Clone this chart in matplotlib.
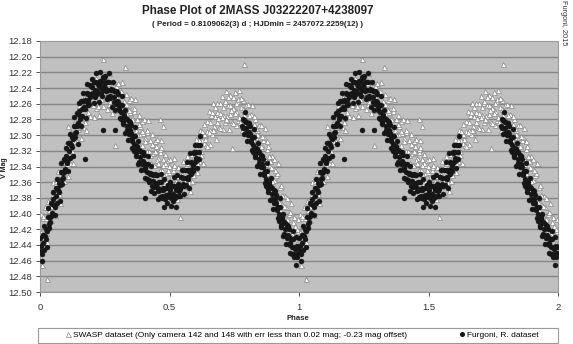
# phase plot of 2MASS J03222207+4238097, two datasets folded on the period

import numpy as np
import matplotlib.pyplot as plt
from matplotlib.lines import Line2D
from matplotlib.patches import Rectangle

plt.rcParams['font.family'] = ['Liberation Sans', 'DejaVu Sans']

# SWASP points (one cycle, phase 0-1)
swasp_phase = [
    0.002, 0.005, 0.008, 0.012, 0.015, 0.018, 0.022, 0.025, 0.028,
    0.032, 0.035, 0.038, 0.042, 0.045, 0.048, 0.052, 0.055, 0.058,
    0.062, 0.065, 0.068, 0.072, 0.075, 0.078, 0.082, 0.085, 0.088,
    0.092, 0.095, 0.098, 0.102, 0.105, 0.108, 0.112, 0.115, 0.118,
    0.122, 0.125, 0.128, 0.132, 0.135, 0.138, 0.142, 0.145, 0.148,
    0.152, 0.155, 0.158, 0.162, 0.165, 0.168, 0.172, 0.175, 0.178,
    0.182, 0.185, 0.188, 0.192, 0.195, 0.198, 0.202, 0.205, 0.208,
    0.212, 0.215, 0.218, 0.222, 0.225, 0.228, 0.232, 0.235, 0.238,
    0.242, 0.245, 0.248, 0.252, 0.255, 0.258, 0.262, 0.265, 0.268,
    0.272, 0.275, 0.278, 0.282, 0.285, 0.288, 0.292, 0.295, 0.298,
    0.302, 0.305, 0.308, 0.312, 0.315, 0.318, 0.322, 0.325, 0.328,
    0.332, 0.335, 0.338, 0.342, 0.345, 0.348, 0.352, 0.355, 0.358,
    0.362, 0.365, 0.368, 0.372, 0.375, 0.378, 0.382, 0.385, 0.388,
    0.392, 0.395, 0.398, 0.402, 0.405, 0.408, 0.412, 0.415, 0.418,
    0.422, 0.425, 0.428, 0.432, 0.435, 0.438, 0.442, 0.445, 0.448,
    0.452, 0.455, 0.458, 0.462, 0.465, 0.468, 0.472, 0.475, 0.478,
    0.482, 0.485, 0.488, 0.492, 0.495, 0.498, 0.502, 0.505, 0.508,
    0.512, 0.515, 0.518, 0.522, 0.525, 0.528, 0.532, 0.535, 0.538,
    0.542, 0.545, 0.548, 0.552, 0.555, 0.558, 0.562, 0.565, 0.568,
    0.572, 0.575, 0.578, 0.582, 0.585, 0.588, 0.592, 0.595, 0.598,
    0.602, 0.605, 0.608, 0.612, 0.615, 0.618, 0.622, 0.625, 0.628,
    0.632, 0.635, 0.638, 0.642, 0.645, 0.648, 0.652, 0.655, 0.658,
    0.662, 0.665, 0.668, 0.672, 0.675, 0.678, 0.682, 0.685, 0.688,
    0.692, 0.695, 0.698, 0.702, 0.705, 0.708, 0.712, 0.715, 0.718,
    0.722, 0.725, 0.728, 0.732, 0.735, 0.738, 0.742, 0.745, 0.748,
    0.752, 0.755, 0.758, 0.762, 0.765, 0.768, 0.772, 0.775, 0.778,
    0.782, 0.785, 0.788, 0.792, 0.795, 0.798, 0.802, 0.805, 0.808,
    0.812, 0.815, 0.818, 0.822, 0.825, 0.828, 0.832, 0.835, 0.838,
    0.842, 0.845, 0.848, 0.852, 0.855, 0.858, 0.862, 0.865, 0.868,
    0.872, 0.875, 0.878, 0.882, 0.885, 0.888, 0.892, 0.895, 0.898,
    0.902, 0.905, 0.908, 0.912, 0.915, 0.918, 0.922, 0.925, 0.928,
    0.932, 0.935, 0.938, 0.942, 0.945, 0.948, 0.952, 0.955, 0.958,
    0.962, 0.965, 0.968, 0.972, 0.975, 0.978, 0.982, 0.985, 0.988,
    0.992, 0.995, 0.998,
    # scattered outliers
    0.008, 0.026, 0.108, 0.244, 0.290, 0.329, 0.464, 0.476, 0.542, 0.743, 0.786,
]
swasp_mag = [
    12.400, 12.424, 12.442, 12.406, 12.430, 12.391, 12.420, 12.406, 12.436,
    12.384, 12.408, 12.398, 12.408, 12.377, 12.392, 12.360, 12.384, 12.402,
    12.361, 12.385, 12.346, 12.370, 12.356, 12.386, 12.334, 12.358, 12.348,
    12.358, 12.327, 12.342, 12.310, 12.334, 12.352, 12.311, 12.335, 12.296,
    12.320, 12.306, 12.336, 12.284, 12.308, 12.298, 12.308, 12.277, 12.292,
    12.262, 12.286, 12.304, 12.266, 12.290, 12.251, 12.278, 12.264, 12.294,
    12.246, 12.270, 12.260, 12.276, 12.245, 12.260, 12.235, 12.259, 12.277,
    12.242, 12.266, 12.227, 12.258, 12.244, 12.274, 12.230, 12.254, 12.244,
    12.263, 12.232, 12.247, 12.225, 12.249, 12.267, 12.236, 12.260, 12.221,
    12.256, 12.242, 12.272, 12.232, 12.256, 12.246, 12.268, 12.237, 12.252,
    12.233, 12.257, 12.275, 12.247, 12.271, 12.232, 12.270, 12.256, 12.286,
    12.248, 12.272, 12.262, 12.286, 12.255, 12.270, 12.253, 12.277, 12.295,
    12.269, 12.293, 12.254, 12.294, 12.280, 12.310, 12.274, 12.298, 12.288,
    12.313, 12.282, 12.297, 12.280, 12.304, 12.322, 12.296, 12.320, 12.281,
    12.320, 12.306, 12.336, 12.299, 12.323, 12.313, 12.338, 12.307, 12.322,
    12.305, 12.329, 12.347, 12.321, 12.345, 12.306, 12.345, 12.331, 12.361,
    12.324, 12.348, 12.338, 12.363, 12.332, 12.347, 12.330, 12.354, 12.372,
    12.344, 12.368, 12.329, 12.365, 12.351, 12.381, 12.340, 12.364, 12.354,
    12.373, 12.342, 12.357, 12.333, 12.357, 12.375, 12.341, 12.365, 12.326,
    12.355, 12.341, 12.371, 12.324, 12.348, 12.338, 12.351, 12.320, 12.335,
    12.305, 12.329, 12.347, 12.309, 12.333, 12.294, 12.320, 12.306, 12.336,
    12.286, 12.310, 12.300, 12.313, 12.282, 12.297, 12.269, 12.293, 12.311,
    12.274, 12.298, 12.259, 12.289, 12.275, 12.305, 12.259, 12.283, 12.273,
    12.290, 12.259, 12.274, 12.250, 12.274, 12.292, 12.259, 12.283, 12.244,
    12.276, 12.262, 12.292, 12.249, 12.273, 12.263, 12.283, 12.252, 12.267,
    12.245, 12.269, 12.287, 12.257, 12.281, 12.242, 12.278, 12.264, 12.294,
    12.255, 12.279, 12.269, 12.293, 12.262, 12.277, 12.260, 12.284, 12.302,
    12.276, 12.300, 12.261, 12.300, 12.286, 12.316, 12.279, 12.303, 12.293,
    12.318, 12.287, 12.302, 12.287, 12.311, 12.329, 12.306, 12.330, 12.291,
    12.332, 12.318, 12.348, 12.314, 12.338, 12.328, 12.358, 12.327, 12.342,
    12.330, 12.354, 12.372, 12.351, 12.375, 12.336, 12.380, 12.366, 12.396,
    12.364, 12.388, 12.378, 12.408, 12.377, 12.392, 12.380, 12.404, 12.422,
    12.401, 12.425, 12.386, 12.425, 12.411, 12.441, 12.404, 12.428, 12.418,
    12.438, 12.407, 12.422,
    # scattered outliers
    12.465, 12.483, 12.288, 12.203, 12.313, 12.213, 12.279, 12.288, 12.405, 12.316, 12.209,
]

# more SWASP points, filling the band
swasp_more_phase = [
    0.0035, 0.0135, 0.0235, 0.0335, 0.0435, 0.0535, 0.0635, 0.0735, 0.0835, 0.0935,
    0.1035, 0.1135, 0.1235, 0.1335, 0.1435, 0.1535, 0.1635, 0.1735, 0.1835, 0.1935,
    0.2035, 0.2135, 0.2235, 0.2335, 0.2435, 0.2535, 0.2635, 0.2735, 0.2835, 0.2935,
    0.3035, 0.3135, 0.3235, 0.3335, 0.3435, 0.3535, 0.3635, 0.3735, 0.3835, 0.3935,
    0.4035, 0.4135, 0.4235, 0.4335, 0.4435, 0.4535, 0.4635, 0.4735, 0.4835, 0.4935,
    0.5035, 0.5135, 0.5235, 0.5335, 0.5435, 0.5535, 0.5635, 0.5735, 0.5835, 0.5935,
    0.6035, 0.6135, 0.6235, 0.6335, 0.6435, 0.6535, 0.6635, 0.6735, 0.6835, 0.6935,
    0.7035, 0.7135, 0.7235, 0.7335, 0.7435, 0.7535, 0.7635, 0.7735, 0.7835, 0.7935,
    0.8035, 0.8135, 0.8235, 0.8335, 0.8435, 0.8535, 0.8635, 0.8735, 0.8835, 0.8935,
    0.9035, 0.9135, 0.9235, 0.9335, 0.9435, 0.9535, 0.9635, 0.9735, 0.9835, 0.9935,
    0.4465, 0.4565, 0.4665, 0.4765, 0.4865, 0.4965, 0.5065, 0.5165, 0.5265,
    0.5365, 0.5465, 0.5565, 0.5665, 0.5765, 0.5865, 0.5965, 0.6065,
    0.6265, 0.6365, 0.6465, 0.6565, 0.6665, 0.6765, 0.6865, 0.6965, 0.7065, 0.7165,
    0.7265, 0.7365, 0.7465, 0.7565, 0.7665, 0.7765, 0.7865, 0.7965, 0.8065, 0.8165,
    0.8265, 0.8365, 0.8465, 0.8565, 0.8665, 0.8765, 0.8865, 0.8965, 0.9065,
]
swasp_more_mag = [
    12.427, 12.403, 12.425, 12.396, 12.390, 12.387, 12.358, 12.375, 12.346, 12.340,
    12.337, 12.308, 12.325, 12.296, 12.290, 12.289, 12.263, 12.283, 12.258, 12.258,
    12.262, 12.239, 12.263, 12.242, 12.245, 12.252, 12.233, 12.261, 12.244, 12.250,
    12.260, 12.244, 12.275, 12.260, 12.268, 12.280, 12.266, 12.299, 12.286, 12.295,
    12.307, 12.293, 12.325, 12.311, 12.320, 12.332, 12.318, 12.350, 12.336, 12.345,
    12.357, 12.341, 12.370, 12.352, 12.355, 12.360, 12.338, 12.360, 12.336, 12.333,
    12.332, 12.306, 12.325, 12.298, 12.295, 12.296, 12.271, 12.294, 12.271, 12.272,
    12.277, 12.256, 12.281, 12.261, 12.265, 12.272, 12.254, 12.283, 12.267, 12.275,
    12.287, 12.273, 12.305, 12.291, 12.300, 12.314, 12.303, 12.337, 12.326, 12.340,
    12.357, 12.348, 12.385, 12.376, 12.390, 12.407, 12.398, 12.430, 12.416, 12.420,
    12.314, 12.336, 12.315, 12.338, 12.359, 12.339, 12.361, 12.338, 12.358,
    12.375, 12.349, 12.364, 12.335, 12.348, 12.359, 12.327, 12.336,
    12.295, 12.305, 12.314, 12.283, 12.294, 12.264, 12.278, 12.291, 12.264, 12.279,
    12.251, 12.268, 12.284, 12.259, 12.277, 12.253, 12.274, 12.294, 12.274, 12.296,
    12.275, 12.298, 12.319, 12.301, 12.326, 12.307, 12.333, 12.359, 12.344,
]

# Furgoni points (one cycle, gap between phase 0.62 and 0.78)
furgoni_phase = [
    0.000, 0.004, 0.007, 0.010, 0.014, 0.017, 0.020, 0.024, 0.027,
    0.030, 0.034, 0.037, 0.040, 0.044, 0.047, 0.050, 0.054, 0.057,
    0.060, 0.064, 0.067, 0.070, 0.074, 0.077, 0.080, 0.084, 0.087,
    0.090, 0.094, 0.097, 0.100, 0.104, 0.107, 0.110, 0.114, 0.117,
    0.120, 0.124, 0.127, 0.130, 0.134, 0.137, 0.140, 0.144, 0.147,
    0.150, 0.154, 0.157, 0.160, 0.164, 0.167, 0.170, 0.174, 0.177,
    0.180, 0.184, 0.187, 0.190, 0.194, 0.197, 0.200, 0.204, 0.207,
    0.210, 0.214, 0.217, 0.220, 0.224, 0.227, 0.230, 0.234, 0.237,
    0.240, 0.244, 0.247, 0.250, 0.254, 0.257, 0.260, 0.264, 0.267,
    0.270, 0.274, 0.277, 0.280, 0.284, 0.287, 0.290, 0.294, 0.297,
    0.300, 0.304, 0.307, 0.310, 0.314, 0.317, 0.320, 0.324, 0.327,
    0.330, 0.334, 0.337, 0.340, 0.344, 0.347, 0.350, 0.354, 0.357,
    0.360, 0.364, 0.367, 0.370, 0.374, 0.377, 0.380, 0.384, 0.387,
    0.390, 0.394, 0.397, 0.400, 0.404, 0.407, 0.410, 0.414, 0.417,
    0.420, 0.424, 0.427, 0.430, 0.434, 0.437, 0.440, 0.444, 0.447,
    0.450, 0.454, 0.457, 0.460, 0.464, 0.467, 0.470, 0.474, 0.477,
    0.480, 0.484, 0.487, 0.490, 0.494, 0.497, 0.500, 0.504, 0.507,
    0.510, 0.514, 0.517, 0.520, 0.524, 0.527, 0.530, 0.534, 0.537,
    0.540, 0.544, 0.547, 0.550, 0.554, 0.557, 0.560, 0.564, 0.567,
    0.570, 0.574, 0.577, 0.580, 0.584, 0.587, 0.590, 0.594, 0.597,
    0.600, 0.604, 0.607, 0.610, 0.614, 0.617,
    0.780, 0.784, 0.787, 0.790, 0.794, 0.797, 0.800, 0.804, 0.807,
    0.810, 0.814, 0.817, 0.820, 0.824, 0.827, 0.830, 0.834, 0.837,
    0.840, 0.844, 0.847, 0.850, 0.854, 0.857, 0.860, 0.864, 0.867,
    0.870, 0.874, 0.877, 0.880, 0.884, 0.887, 0.890, 0.894, 0.897,
    0.900, 0.904, 0.907, 0.910, 0.914, 0.917, 0.920, 0.924, 0.927,
    0.930, 0.934, 0.937, 0.940, 0.944, 0.947, 0.950, 0.954, 0.957,
    0.960, 0.964, 0.967, 0.970, 0.974, 0.977, 0.980, 0.984, 0.987,
    0.990, 0.994, 0.997,
    # scattered outliers
    0.147, 0.174, 0.245, 0.290, 0.406,
]
furgoni_mag = [
    12.431, 12.448, 12.461, 12.427, 12.446, 12.416, 12.429, 12.420, 12.443,
    12.393, 12.419, 12.405, 12.411, 12.387, 12.399, 12.372, 12.389, 12.402,
    12.367, 12.386, 12.356, 12.370, 12.361, 12.384, 12.336, 12.362, 12.348,
    12.355, 12.331, 12.343, 12.316, 12.333, 12.346, 12.310, 12.329, 12.299,
    12.312, 12.303, 12.326, 12.277, 12.303, 12.289, 12.296, 12.272, 12.284,
    12.259, 12.276, 12.289, 12.257, 12.276, 12.246, 12.264, 12.255, 12.278,
    12.235, 12.261, 12.247, 12.260, 12.236, 12.248, 12.229, 12.246, 12.259,
    12.232, 12.251, 12.221, 12.244, 12.235, 12.258, 12.220, 12.246, 12.232,
    12.250, 12.226, 12.238, 12.224, 12.241, 12.254, 12.232, 12.251, 12.221,
    12.250, 12.241, 12.264, 12.232, 12.258, 12.244, 12.268, 12.244, 12.256,
    12.248, 12.265, 12.278, 12.261, 12.280, 12.250, 12.283, 12.274, 12.297,
    12.268, 12.294, 12.280, 12.306, 12.282, 12.294, 12.287, 12.304, 12.317,
    12.301, 12.320, 12.290, 12.323, 12.314, 12.337, 12.308, 12.334, 12.320,
    12.345, 12.321, 12.333, 12.325, 12.342, 12.355, 12.337, 12.356, 12.326,
    12.357, 12.348, 12.371, 12.339, 12.365, 12.351, 12.374, 12.350, 12.362,
    12.351, 12.368, 12.381, 12.360, 12.379, 12.349, 12.377, 12.368, 12.391,
    12.356, 12.382, 12.368, 12.387, 12.363, 12.375, 12.360, 12.377, 12.390,
    12.365, 12.384, 12.354, 12.377, 12.368, 12.391, 12.351, 12.377, 12.363,
    12.377, 12.353, 12.365, 12.345, 12.362, 12.375, 12.345, 12.364, 12.334,
    12.353, 12.344, 12.367, 12.323, 12.349, 12.335, 12.346, 12.322, 12.334,
    12.312, 12.329, 12.342, 12.312, 12.331, 12.301,
    12.288, 12.279, 12.298, 12.271, 12.297, 12.283, 12.308, 12.284, 12.296,
    12.289, 12.306, 12.319, 12.303, 12.322, 12.292, 12.325, 12.316, 12.339,
    12.310, 12.336, 12.322, 12.349, 12.325, 12.337, 12.331, 12.348, 12.361,
    12.346, 12.365, 12.335, 12.369, 12.360, 12.383, 12.355, 12.381, 12.367,
    12.394, 12.370, 12.382, 12.376, 12.393, 12.406, 12.391, 12.410, 12.380,
    12.414, 12.405, 12.428, 12.400, 12.426, 12.412, 12.439, 12.415, 12.427,
    12.420, 12.437, 12.450, 12.433, 12.452, 12.422, 12.452, 12.443, 12.466,
    12.430, 12.456, 12.442,
    # scattered outliers
    12.311, 12.330, 12.294, 12.294, 12.380,
]

# more Furgoni points, the dense core of the band
furgoni_more_phase = [
    0.002, 0.006, 0.012, 0.016, 0.022, 0.026, 0.032, 0.036, 0.042, 0.046,
    0.052, 0.056, 0.062, 0.066, 0.072, 0.076, 0.082, 0.086, 0.092, 0.096,
    0.102, 0.106, 0.112, 0.116, 0.122, 0.126, 0.132, 0.136, 0.142, 0.146,
    0.152, 0.156, 0.162, 0.166, 0.172, 0.176, 0.182, 0.186, 0.192, 0.196,
    0.202, 0.206, 0.212, 0.216, 0.222, 0.226, 0.232, 0.236, 0.242, 0.246,
    0.252, 0.256, 0.262, 0.266, 0.272, 0.276, 0.282, 0.286, 0.292, 0.296,
    0.302, 0.306, 0.312, 0.316, 0.322, 0.326, 0.332, 0.336, 0.342, 0.346,
    0.352, 0.356, 0.362, 0.366, 0.372, 0.376, 0.382, 0.386, 0.392, 0.396,
    0.402, 0.406, 0.412, 0.416, 0.422, 0.426, 0.432, 0.436, 0.442, 0.446,
    0.452, 0.456, 0.462, 0.466, 0.472, 0.476, 0.482, 0.486, 0.492, 0.496,
    0.502, 0.506, 0.512, 0.516, 0.522, 0.526, 0.532, 0.536, 0.542, 0.546,
    0.552, 0.556, 0.562, 0.566, 0.572, 0.576, 0.582, 0.586, 0.592, 0.596,
    0.602, 0.606, 0.612, 0.616,
    0.782, 0.786, 0.792, 0.796, 0.802, 0.806, 0.812, 0.816, 0.822, 0.826,
    0.832, 0.836, 0.842, 0.846, 0.852, 0.856, 0.862, 0.866, 0.872, 0.876,
    0.882, 0.886, 0.892, 0.896, 0.902, 0.906, 0.912, 0.916, 0.922, 0.926,
    0.932, 0.936, 0.942, 0.946, 0.952, 0.956, 0.962, 0.966, 0.972, 0.976,
    0.982, 0.986, 0.992, 0.996,
]
furgoni_more_mag = [
    12.441, 12.451, 12.437, 12.427, 12.432, 12.422, 12.404, 12.413, 12.403, 12.388,
    12.382, 12.392, 12.377, 12.367, 12.373, 12.363, 12.347, 12.356, 12.347, 12.332,
    12.326, 12.336, 12.320, 12.310, 12.315, 12.305, 12.288, 12.297, 12.288, 12.273,
    12.269, 12.279, 12.267, 12.257, 12.267, 12.257, 12.246, 12.255, 12.252, 12.237,
    12.239, 12.249, 12.242, 12.232, 12.247, 12.237, 12.231, 12.240, 12.242, 12.227,
    12.234, 12.244, 12.242, 12.232, 12.253, 12.243, 12.243, 12.252, 12.260, 12.245,
    12.258, 12.268, 12.271, 12.261, 12.286, 12.276, 12.279, 12.288, 12.298, 12.283,
    12.297, 12.307, 12.311, 12.301, 12.326, 12.316, 12.319, 12.328, 12.337, 12.322,
    12.335, 12.345, 12.347, 12.337, 12.360, 12.350, 12.350, 12.359, 12.366, 12.351,
    12.361, 12.371, 12.370, 12.360, 12.380, 12.370, 12.367, 12.376, 12.379, 12.364,
    12.370, 12.380, 12.375, 12.365, 12.380, 12.370, 12.362, 12.371, 12.369, 12.354,
    12.355, 12.365, 12.355, 12.345, 12.356, 12.346, 12.334, 12.343, 12.338, 12.323,
    12.322, 12.332, 12.322, 12.312,
    12.291, 12.281, 12.282, 12.291, 12.300, 12.285, 12.299, 12.309, 12.313, 12.303,
    12.328, 12.318, 12.321, 12.330, 12.341, 12.326, 12.341, 12.351, 12.356, 12.346,
    12.372, 12.362, 12.366, 12.375, 12.386, 12.371, 12.386, 12.396, 12.401, 12.391,
    12.417, 12.407, 12.411, 12.420, 12.431, 12.416, 12.430, 12.440, 12.443, 12.433,
    12.455, 12.445, 12.441, 12.450,
]

y_ticks = np.round(np.arange(12.18, 12.501, 0.02), 2)
x_ticks = [0, 0.5, 1, 1.5, 2]
x_labels = ['0', '0.5', '1', '1.5', '2']

# a phase plot shows the same cycle twice
s_ph = np.concatenate([swasp_phase, swasp_more_phase])
s_mg = np.concatenate([swasp_mag, swasp_more_mag])
f_ph = np.concatenate([furgoni_phase, furgoni_more_phase])
f_mg = np.concatenate([furgoni_mag, furgoni_more_mag])
sp = np.concatenate([s_ph, s_ph + 1])
sm = np.concatenate([s_mg, s_mg])
fp = np.concatenate([f_ph, f_ph + 1])
fm = np.concatenate([f_mg, f_mg])

fig = plt.figure(figsize=(5.73, 3.44), dpi=100)
ax = fig.add_axes([40/573, 1 - 292/344, 518/573, 251/344])
ax.set_facecolor('#c0c0c0')

for y in y_ticks[1:]:
    ax.axhline(y, color='#858585', linewidth=1.0, zorder=1)

ax.plot(sp, sm, linestyle='none', marker='^', markersize=3.6,
        markerfacecolor='white', markeredgecolor='#858585', markeredgewidth=0.5, zorder=2)
ax.plot(fp, fm, linestyle='none', marker='o', markersize=3.6,
        markerfacecolor='#161616', markeredgecolor='#161616', markeredgewidth=0.3, zorder=3)

ax.set_xlim(0, 2)
ax.set_ylim(12.50, 12.18)
ax.set_yticks(y_ticks)
ax.set_yticklabels(['%.2f' % v for v in y_ticks])
ax.set_xticks(x_ticks)
ax.set_xticklabels(x_labels)
ax.tick_params(axis='both', labelsize=6.8, colors='#333333', length=3, width=0.6)
ax.tick_params(axis='y', pad=2.5)
ax.tick_params(axis='x', pad=5)
for s in ax.spines.values():
    s.set_color('#999999')
    s.set_linewidth(0.8)

fig.text(258/573, 1 - 11/344, 'Phase Plot of 2MASS J03222207+4238097',
         ha='center', va='center', fontsize=8.4, fontweight='bold', color='#222222')
fig.text(258/573, 1 - 24/344, '( Period = 0.8109062(3) d ; HJDmin = 2457072.2259(12) )',
         ha='center', va='center', fontsize=5.8, fontweight='bold', color='#222222')
fig.text(564/573, 1 - 23/344, 'Furgoni, 2015', rotation=270,
         ha='center', va='center', fontsize=5.3, color='#333333')
fig.text(4/573, 1 - 168/344, 'V Mag', rotation=90,
         ha='center', va='center', fontsize=5.0, fontweight='bold', color='#222222')
fig.text(298/573, 1 - 319/344, 'Phase',
         ha='center', va='center', fontsize=5.6, fontweight='bold', color='#222222')

# legend box below the axis
fig.patches.append(Rectangle((38/573, 1 - 343/344), 520/573, 15/344,
                             transform=fig.transFigure, facecolor='white',
                             edgecolor='#9a9a9a', linewidth=0.8))
handles = [
    Line2D([], [], linestyle='none', marker='^', markersize=3.6,
           markerfacecolor='white', markeredgecolor='#858585', markeredgewidth=0.5),
    Line2D([], [], linestyle='none', marker='o', markersize=2.6,
           markerfacecolor='#161616', markeredgecolor='#161616'),
]
labels = ['SWASP dataset (Only camera 142 and 148 with err less than 0.02 mag; -0.23 mag offset)',
          'Furgoni, R. dataset']
fig.legend(handles, labels, loc='center', bbox_to_anchor=(302/573, 1 - 335.5/344),
           ncol=2, frameon=False, fontsize=6.0, handlelength=0.6, handletextpad=0.3,
           columnspacing=6.2, borderpad=0)

plt.savefig('out.png', dpi=100)
